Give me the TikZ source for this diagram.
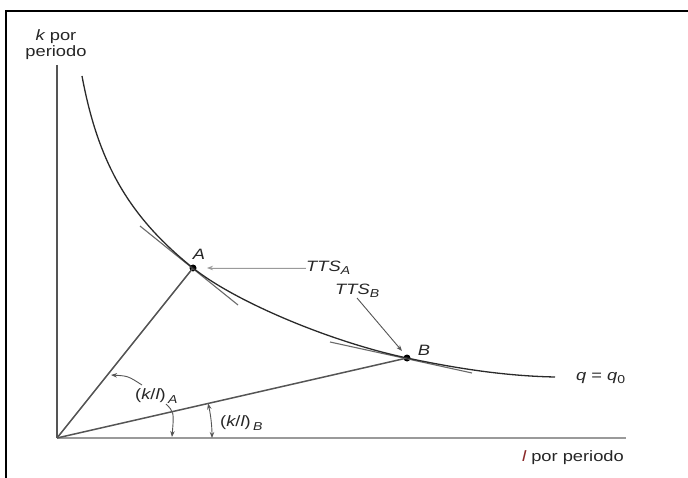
\documentclass[tikz,border=0pt]{standalone}
\usepackage{fontspec}
\setmainfont{Liberation Sans}[FakeStretch=1.22]
\usetikzlibrary{arrows.meta}
\definecolor{lred}{HTML}{8B2A2A}
\definecolor{axgray}{HTML}{9A9A9A}
\definecolor{raygray}{HTML}{555555}
\definecolor{curvecol}{HTML}{2A2A2A}
\definecolor{tangray}{HTML}{6A6A6A}
\newcommand{\sbs}[1]{\raisebox{-3.5pt}{\fontsize{11.5}{11.5}\selectfont #1}}
\begin{document}
\begin{tikzpicture}[x=1pt,y=-1pt,
  lab/.style={inner sep=0pt, text=black!85, font=\fontsize{15}{16}\selectfont},
  axisline/.style={draw=axgray, line width=2.2pt},
  rayline/.style={draw=raygray, line width=1.5pt},
  curveline/.style={draw=curvecol, line width=1.3pt},
  tanline/.style={draw=tangray, line width=1.1pt},
  pointer/.style={-{Stealth[length=6pt,width=4.5pt]}, line width=0.9pt},
  dot/.style={circle, fill=black, inner sep=0pt, minimum size=7pt}]
\useasboundingbox (0,0) rectangle (688,478);
% frame
\draw[line width=2pt] (6,478) -- (6,11) -- (690,11);
% points
\coordinate (O) at (57,438);
\coordinate (ytop) at (57,65);
\coordinate (xend) at (626,438);
\node[dot] (A) at (193,268) {};
\node[dot] (B) at (407,358) {};
\coordinate (C0) at (82,76);
\coordinate (C9) at (555,377);
% axes
\draw[draw=raygray, line width=1.7pt] (ytop) -- (O);
\draw[axisline] (O) -- (xend);
% rays
\draw[rayline] (O) -- (A.center);
\draw[rayline] (O) -- (B.center);
% tangents
\coordinate (tA1) at (140,226);
\coordinate (tA2) at (238,305);
\coordinate (tB1) at (330,342);
\coordinate (tB2) at (472,373);
\draw[tanline] (tA1) -- (tA2);
\draw[tanline] (tB1) -- (tB2);
% isoquant
\draw[curveline] (C0) .. controls (97.6,159.6) and (126.6,214.9) .. (A.center)
  .. controls (235,301.6) and (331,342) .. (B.center)
  .. controls (457,368.5) and (505,376) .. (C9);
% labels
\node[lab, align=center] (ylab) at (56,45) {{\itshape k} por\\periodo};
\node[lab] (xlab) at (573,458) {\textcolor{lred}{\itshape l} por periodo};
\node[lab] (Alab) at (199,254) {\itshape A};
\node[lab] (Blab) at (424,350) {\itshape B};
\node[lab, anchor=west] (ttsa) at (306,268) {{\itshape TTS}\sbs{\itshape A}};
\node[lab, anchor=west] (ttsb) at (335,291) {{\itshape TTS}\sbs{\itshape B}};
\node[lab, anchor=west] (qlab) at (576,378) {{\itshape q} = {\itshape q}\sbs{0}};
\node[lab, anchor=west] (kla) at (135,396) {({\itshape k}/{\itshape l})\,\sbs{\itshape A}};
\node[lab, anchor=west] (klb) at (220,423) {({\itshape k}/{\itshape l})\,\sbs{\itshape B}};
% pointers
\coordinate (pa) at (207,268);
\draw[pointer, draw=axgray, fill=axgray] (ttsa.west) -- (pa);
\coordinate (pb) at (402,351);
\coordinate (pbs) at (357,298);
\draw[pointer, draw=raygray] (pbs) -- (pb);
\coordinate (ka1) at (142,385);
\coordinate (ka1e) at (111,375);
\draw[pointer, draw=raygray] (ka1) .. controls (128,376) .. (ka1e);
\coordinate (ka2) at (166,404);
\coordinate (ka2e) at (172,437);
\draw[pointer, draw=raygray] (ka2) .. controls (174,412) .. (ka2e);
\coordinate (kb1) at (212,438);
\draw[{Stealth[length=6pt,width=4.5pt]}-{Stealth[length=6pt,width=4.5pt]}, draw=raygray, line width=0.9pt]
  (kb1) arc[start angle=0, end angle=12.9, radius=155pt];
\end{tikzpicture}
\end{document}
